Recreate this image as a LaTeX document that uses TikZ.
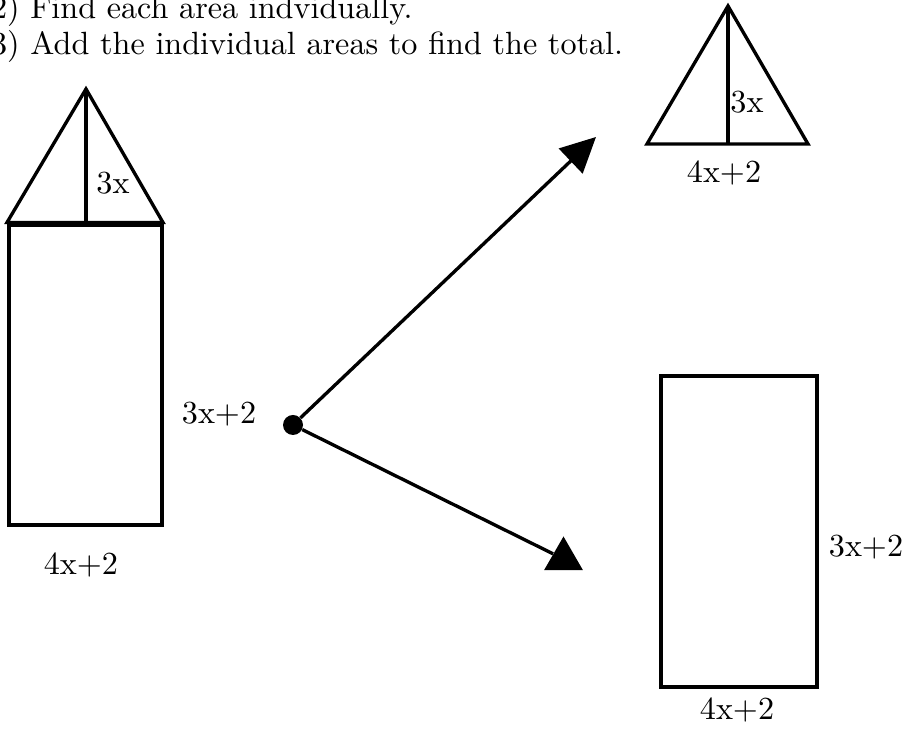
\documentclass[tikz,border=0pt]{standalone}
\usepackage{tikz}
\usetikzlibrary{positioning, shapes.geometric, arrows.meta}

\tikzset{
  edge/.style={line width=1.9pt},
  box/.style={draw, rectangle, line width=1.9pt, inner sep=0pt},
  lbl/.style={scale=1.83, inner sep=0pt},
  textline/.style={scale=1.83, inner sep=0pt, anchor=base west}
}

\begin{document}
\begin{tikzpicture}[line join=miter]
      \useasboundingbox (0,0) rectangle (18.06,14.58);

      % Steps
      \node[textline] (steptwo) at (-0.19, 14.2) {2) Find each area indvidually.};
      \node[textline] (stepthree) at (-0.19, 13.48) {3) Add the individual areas to find the total.};

      % Left shape: triangle on a rectangle
      \coordinate (ltop) at (1.72, 12.8);
      \coordinate (lleft) at (0.14, 10.13);
      \coordinate (lright) at (3.26, 10.13);
      \coordinate (lfoot) at (1.72, 10.13);
      \draw[edge] (lleft) -- (ltop) -- (lright) -- cycle;
      \draw[edge] (ltop) -- (lfoot);
      \node[box, minimum width=3.06cm, minimum height=6cm] (lrect) at (1.71, 7.08) {};

      \node[lbl] (lheight) at (2.26, 10.92) {3x};
      \node[lbl] (lside) at (4.38, 6.3) {3x+2};
      \node[lbl] (lbase) at (1.62, 3.28) {4x+2};

      % Split point
      \node[circle, fill, minimum size=0.4cm, inner sep=0pt] (hub) at (5.86, 6.08) {};

      % Arrows
      \coordinate (uptip) at (11.92, 11.84);
      \draw[edge, -{Triangle[length=0.7cm, width=0.68cm]}] (hub) -- (uptip);
      \node[regular polygon, regular polygon sides=3, fill, minimum size=0.9cm, inner sep=0pt] (downtip) at (11.27, 3.40) {};
      \draw[edge] (hub) -- (downtip);

      % Right triangle
      \coordinate (rtop) at (14.56, 14.46);
      \coordinate (rleft) at (12.94, 11.7);
      \coordinate (rright) at (16.16, 11.7);
      \coordinate (rfoot) at (14.56, 11.7);
      \draw[edge] (rleft) -- (rtop) -- (rright) -- cycle;
      \draw[edge] (rtop) -- (rfoot);
      \node[lbl] (rheight) at (14.94, 12.54) {3x};
      \node[lbl] (rtribase) at (14.48, 11.12) {4x+2};

      % Right rectangle
      \node[box, minimum width=3.12cm, minimum height=6.22cm] (rrect) at (14.78, 3.95) {};
      \node[lbl] (rside) at (17.32, 3.64) {3x+2};
      \node[lbl] (rbase) at (14.74, 0.38) {4x+2};
\end{tikzpicture}
\end{document}
